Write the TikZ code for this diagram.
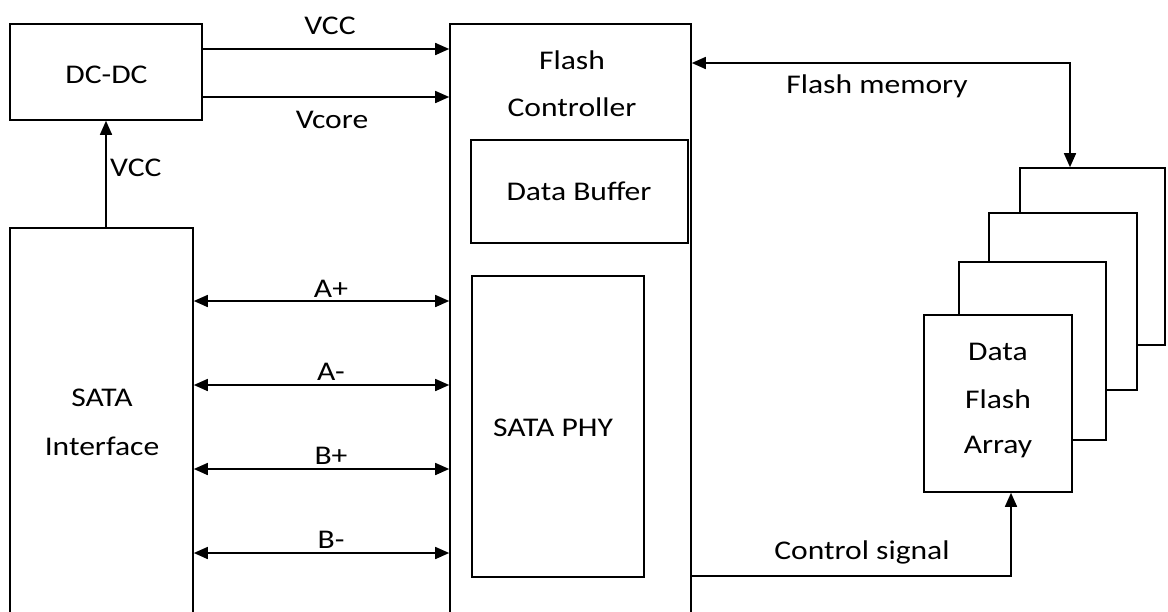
\documentclass[tikz,border=0pt]{standalone}
\usepackage{fontspec}
\usepackage{graphicx}
\setmainfont{Carlito}
\usetikzlibrary{arrows.meta}
\newcommand\sx[1]{\scalebox{1.17}[1]{#1}}
\tikzset{
  box/.style={draw, line width=1.6pt, fill=white, inner sep=0pt, rectangle},
  txt/.style={inner sep=0pt, font=\fontsize{27}{32}\selectfont},
  conn/.style={line width=1.6pt, -{Triangle[length=14pt,width=12pt]}},
  bconn/.style={line width=1.6pt, {Triangle[length=14pt,width=12pt]}-{Triangle[length=14pt,width=12pt]}},
}
\begin{document}
\begin{tikzpicture}[x=1pt,y=-1pt]
\useasboundingbox (0,0) rectangle (1168,611);
% boxes
\node[box, minimum width=192pt, minimum height=96pt] (dcdc) at (106,72) {};
\node[box, minimum width=183pt, minimum height=412pt] (sata) at (101.5,434) {};
\node[box, minimum width=241pt, minimum height=616pt] (fc) at (570.5,332) {};
\node[box, minimum width=217pt, minimum height=103pt] (db) at (579.5,191.5) {};
\node[box, minimum width=172pt, minimum height=301pt] (phy) at (558,426.5) {};
% stacked flash arrays
\node[box, minimum width=145pt, minimum height=177pt] (a4) at (1092.5,256.5) {};
\node[box, minimum width=148pt, minimum height=177pt] (a3) at (1063,301.5) {};
\node[box, minimum width=147pt, minimum height=178pt] (a2) at (1032.5,351) {};
\node[box, minimum width=148pt, minimum height=177pt] (a1) at (998,403.5) {};
% texts
\node[txt] (tdcdc) at (106.5,75) {\sx{DC-DC}};
\node[txt] (tsata) at (102,398) {\sx{SATA}};
\node[txt] (tintf) at (102,446) {\sx{Interface}};
\node[txt] (tflash) at (572,60) {\sx{Flash}};
\node[txt] (tctrl) at (572,107) {\sx{Controller}};
\node[txt] (tdb) at (579,191) {\sx{Data Buffer}};
\node[txt] (tphy) at (553,428) {\sx{SATA PHY}};
\node[txt] (tdata) at (998,352) {\sx{Data}};
\node[txt] (tfl2) at (998,399) {\sx{Flash}};
\node[txt] (tarr) at (998,447) {\sx{Array}};
% helper coordinates
\coordinate (yvcc) at (0,49);
\coordinate (yvcore) at (0,97);
\coordinate (xvcc) at (106,0);
\coordinate (yap) at (0,301);
\coordinate (yam) at (0,385);
\coordinate (ybp) at (0,469);
\coordinate (ybm) at (0,553);
\coordinate (yfm) at (0,63);
\coordinate (xfm) at (1070,0);
\coordinate (yctl) at (0,576);
\coordinate (xctl) at (1011,0);
% connectors
\draw[conn] (dcdc.east |- yvcc) -- (fc.west |- yvcc);
\draw[conn] (dcdc.east |- yvcore) -- (fc.west |- yvcore);
\draw[conn] (sata.north -| xvcc) -- (dcdc.south -| xvcc);
\draw[bconn] (sata.east |- yap) -- (fc.west |- yap);
\draw[bconn] (sata.east |- yam) -- (fc.west |- yam);
\draw[bconn] (sata.east |- ybp) -- (fc.west |- ybp);
\draw[bconn] (sata.east |- ybm) -- (fc.west |- ybm);
\draw[bconn] (fc.east |- yfm) -| (a4.north -| xfm);
\draw[conn] (fc.east |- yctl) -| (a1.south -| xctl);
% connector labels
\node[txt] (lvcc) at (330,26) {\sx{VCC}};
\node[txt] (lvcore) at (332,120) {\sx{Vcore}};
\node[txt, anchor=west] (lvcc2) at (110,168) {\sx{VCC}};
\node[txt] (lap) at (331,289) {\sx{A+}};
\node[txt] (lam) at (331,372) {\sx{A-}};
\node[txt] (lbp) at (331,456) {\sx{B+}};
\node[txt] (lbm) at (331,540) {\sx{B-}};
\node[txt] (lfm) at (877,86) {\sx{Flash memory}};
\node[txt] (lctl) at (862,552) {\sx{Control signal}};
\end{tikzpicture}
\end{document}
